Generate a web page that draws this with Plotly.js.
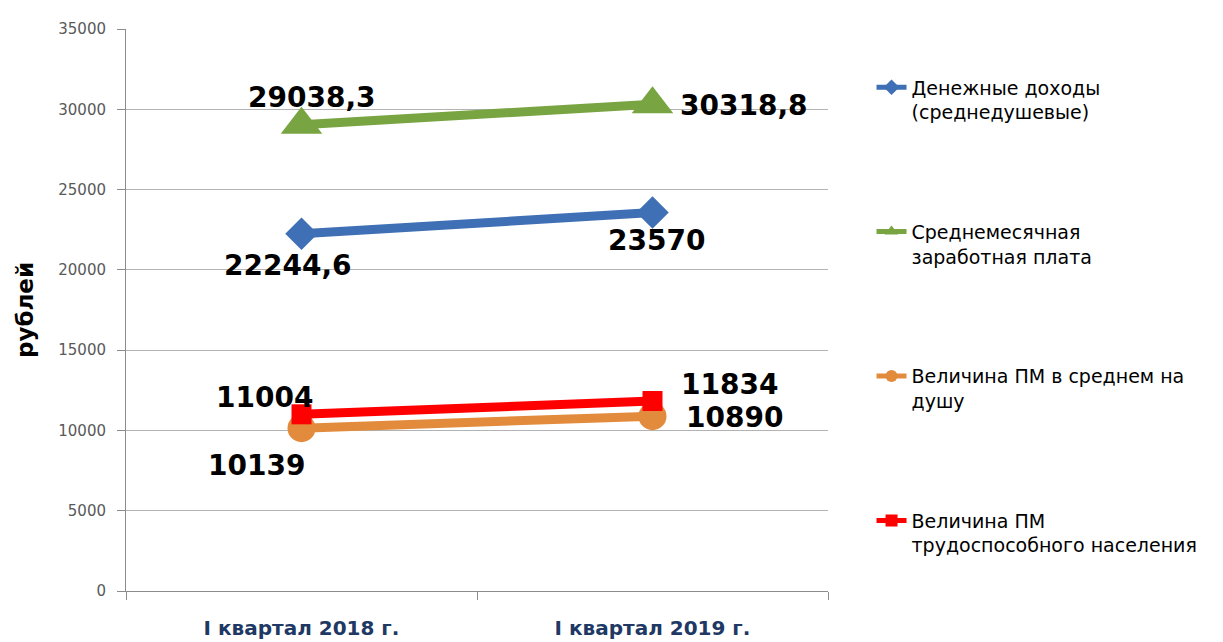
<!DOCTYPE html>
<html>
<head>
<meta charset="utf-8">
<script src="https://cdn.plot.ly/plotly-3.0.1.min.js"></script>
<style>html,body{margin:0;padding:0;background:#fff;}#chart{width:1223px;height:642px;}</style>
</head>
<body>
<div id="chart"></div>
<script>
const categories = ["I квартал 2018 г.", "I квартал 2019 г."];
const seriesNames = [
  "Денежные доходы<br>(среднедушевые)",
  "Среднемесячная<br>заработная плата",
  "Величина ПМ в среднем на<br>душу",
  "Величина ПМ<br>трудоспособного населения"
];
const incomeValues = [22244.6, 23570];
const salaryValues = [29038.3, 30318.8];
const pmPerCapitaValues = [10139, 10890];
const pmWorkingValues = [11004, 11834];
const yTickValues = [0, 5000, 10000, 15000, 20000, 25000, 30000, 35000];

const colors = ["#3F6FB5", "#78A441", "#E38B3C", "#FF0000"];
const symbols = ["diamond", "triangle-up", "circle", "square"];
const markerSizes = [25, 36, 28, 20];
const allValues = [incomeValues, salaryValues, pmPerCapitaValues, pmWorkingValues];
// label offsets (px) per series per point: [xshift, yshift]
const labelOffsets = [
  [[-14, -32], [4, -28]],
  [[10, 27], [91, -1]],
  [[-45, -37], [82, -1]],
  [[-37, 17], [77, 16]]
];

const traces = allValues.map((vals, i) => ({
  type: "scatter",
  mode: "lines+markers",
  x: categories,
  y: vals,
  name: seriesNames[i],
  legendgroup: "g" + i,
  line: {color: colors[i], width: 9},
  marker: {symbol: symbols[i], size: markerSizes[i], color: colors[i]},
  hoverinfo: "skip"
}));

const fmt = v => String(v).replace(".", ",");
const annotations = [];
allValues.forEach((vals, i) => {
  vals.forEach((v, j) => {
    annotations.push({
      x: categories[j], y: v, xref: "x", yref: "y",
      text: fmt(v), showarrow: false,
      xshift: labelOffsets[i][j][0], yshift: labelOffsets[i][j][1],
      font: {family: "DejaVu Sans", size: 28, color: "#000000", weight: "bold"}
    });
  });
});

const layout = {
  width: 1223, height: 642,
  margin: {l: 126, r: 395, t: 29, b: 51},
  paper_bgcolor: "#ffffff", plot_bgcolor: "#ffffff",
  showlegend: true,
  xaxis: {
    type: "category",
    range: [-0.5, 1.5],
    showline: true, linecolor: "#8C8C8C", linewidth: 1,
    ticks: "outside", tickson: "boundaries", ticklen: 8, tickcolor: "#8C8C8C",
    showgrid: false, zeroline: false,
    tickfont: {family: "DejaVu Sans", size: 20, color: "#203864", weight: "bold"},
    ticklabelstandoff: 19
  },
  yaxis: {
    range: [0, 35000],
    tickvals: yTickValues,
    ticktext: yTickValues.map(String),
    showline: true, linecolor: "#8C8C8C", linewidth: 1,
    ticks: "outside", ticklen: 8, tickcolor: "#8C8C8C",
    showgrid: true, gridcolor: "#B3B3B3", gridwidth: 1,
    zeroline: false,
    tickfont: {family: "DejaVu Sans", size: 15, color: "#595959"},
    ticklabelstandoff: 8,
    title: {text: "рублей", font: {family: "DejaVu Sans", size: 23, color: "#000000", weight: "bold"}, standoff: 18}
  },
  legend: {
    x: 1.062, xanchor: "left", y: 0.93, yanchor: "top",
    traceorder: "grouped", tracegroupgap: 92,
    valign: "top", itemsizing: "constant",
    font: {family: "DejaVu Sans", size: 19, color: "#000000"},
    bgcolor: "rgba(0,0,0,0)", borderwidth: 0
  },
  annotations: annotations
};

Plotly.newPlot("chart", traces, layout, {staticPlot: true});
</script>
</body>
</html>
